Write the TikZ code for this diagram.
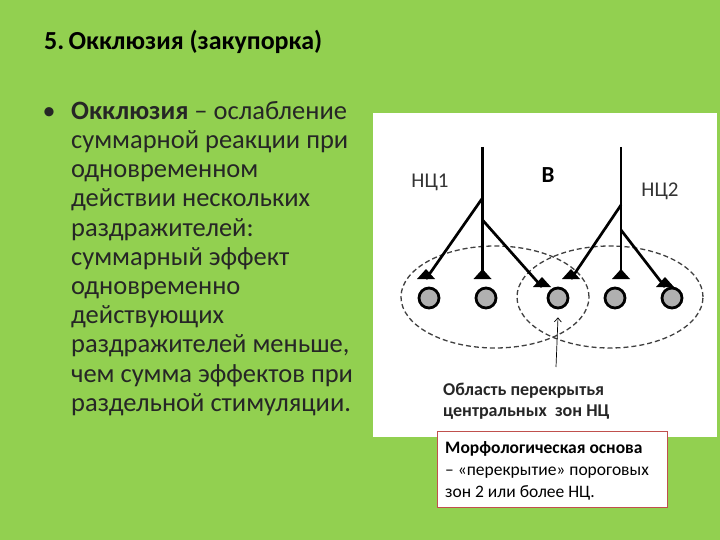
\documentclass[tikz,border=0pt]{standalone}
\usepackage{fontspec}
\setmainfont{Carlito}
\usepackage{xcolor}
\usepackage{tikz}
\usetikzlibrary{arrows.meta}

\definecolor{slidegreen}{RGB}{146,208,80}
\definecolor{boxred}{RGB}{192,80,77}
\definecolor{cellgray}{RGB}{176,176,176}

\tikzset{
    cell/.style={circle, draw=black, line width=2.8pt, fill=cellgray,
                 minimum size=20pt, inner sep=0pt},
    axon/.style={line width=2.7pt},
    zone/.style={dash pattern=on 5pt off 3pt, line width=1.3pt, black!75}
}

\begin{document}
\begin{tikzpicture}[x=1pt, y=-1pt]
                \useasboundingbox (0, 0) rectangle (720, 540);
                \fill[slidegreen] (0, 0) rectangle (720, 540);

                % title and bullet text
                \node[anchor=base west, inner sep=0pt, font=\fontsize{26}{30}\selectfont\bfseries] (title) at (44, 50)
                    {5.\,Окклюзия (закупорка)};
                \node[anchor=base west, font=\fontsize{26}{30}\selectfont, text=black!85] (dot) at (39, 120) {•};
                \node[anchor=north west, align=left, inner sep=0pt, text=black!85,
                      font=\fontsize{26.5}{29.2}\selectfont] (body) at (71, 101) {%
                    \textbf{Окклюзия} – ослабление\\
                    суммарной реакции при\\
                    одновременном\\
                    действии нескольких\\
                    раздражителей:\\
                    суммарный эффект\\
                    одновременно\\
                    действующих\\
                    раздражителей меньше,\\
                    чем сумма эффектов при\\
                    раздельной стимуляции.};

                % picture
                \fill[white] (373, 113) rectangle (717, 437);

                \coordinate (top1) at (482.5, 147);
                \coordinate (top2) at (621, 147);
                \coordinate (b1a) at (482.5, 198);
                \coordinate (b1b) at (482.5, 220);
                \coordinate (b2a) at (621, 205);
                \coordinate (b2b) at (621, 230);
                \coordinate (s1) at (426, 279);
                \coordinate (s2) at (482.5, 279);
                \coordinate (s3) at (542, 287);
                \coordinate (s4) at (571, 279);
                \coordinate (s5) at (621, 279);
                \coordinate (s6) at (665, 287);

                \draw[zone] (495, 297) ellipse [x radius=94pt, y radius=51pt];
                \draw[zone] (610, 297) ellipse [x radius=93pt, y radius=51pt];

                \draw[axon] (top1) -- (s2);
                \draw[axon] (top2) -- (s5);
                \draw[axon] (b1a) -- (s1);
                \draw[axon] (b1b) -- (s3);
                \draw[axon] (b2a) -- (s4);
                \draw[axon] (b2b) -- (s6);
                \foreach \s in {s1, s2, s3, s4, s5, s6}
                    \fill (\s) ++(-9, 0) -- ++(18, 0) -- ++(-9, -10) -- cycle;

                \foreach \i/\x in {1/429, 2/486, 3/558, 4/615, 5/672}
                    \node[cell] (c\i) at (\x, 298) {};

                \node[font=\fontsize{21}{24}\selectfont, text=black!80] (nc1) at (430, 182) {НЦ1};
                \node[font=\fontsize{23}{26}\selectfont\bfseries] (b) at (548, 175) {В};
                \node[font=\fontsize{21}{24}\selectfont, text=black!80] (nc2) at (660, 191) {НЦ2};

                \coordinate (arr) at (556, 367);
                \draw[line width=0.7pt, -{Straight Barb[length=4pt, width=7pt]}] (arr) -- ([yshift=-8pt]c3.south);

                \node[anchor=north west, align=left, inner sep=0pt, text=black!85,
                      font=\fontsize{18}{21}\selectfont\bfseries] (overlap) at (443, 383) {%
                    Область перекрытья\\
                    центральных~ зон НЦ};

                % note box
                \node[anchor=north west, draw=boxred, line width=1pt, fill=white,
                      minimum width=230pt, minimum height=76pt, inner sep=0pt] (frame) at (437, 431) {};
                \node[anchor=north west, align=left, inner sep=0pt,
                      font=\fontsize{17.5}{22}\selectfont] (note) at (445, 441) {%
                    \textbf{Морфологическая основа}\\
                    – «перекрытие» пороговых\\
                    зон 2 или более НЦ.};
            \end{tikzpicture}
\end{document}
